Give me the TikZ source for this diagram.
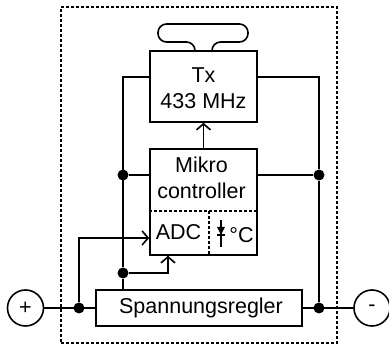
\documentclass[tikz,border=0pt]{standalone}
\usepackage{fontspec}
\setmainfont{Liberation Sans}
\usetikzlibrary{arrows.meta}
\tikzset{
  wire/.style={line width=1.6pt},
  barb/.style={wire,-{Straight Barb[length=6pt,width=14pt,line width=1.6pt]}},
  block/.style={draw,wire,inner sep=0pt},
  junction/.style={circle,fill=black,inner sep=0pt,minimum size=11pt},
  terminal/.style={circle,draw,wire,inner sep=0pt,minimum size=36pt},
  dashedline/.style={line width=1.4pt,dash pattern=on 3pt off 2pt},
  label/.style={font=\fontsize{21.5}{26}\selectfont,align=center,inner sep=0pt}
}
\begin{document}
\begin{tikzpicture}[x=1pt,y=1pt]
      \useasboundingbox (0,0) rectangle (389,345);

      \node[draw,dashedline,minimum width=276pt,minimum height=336pt,inner sep=0pt] (frame) at (199,170) {};

      \node[block,minimum width=107pt,minimum height=71pt] (tx) at (203.5,258.5) {};
      \node[block,minimum width=107pt,minimum height=106pt,below of=tx,node distance=115.5pt] (mikro) {};
      \node[block,minimum width=206pt,minimum height=36pt,below of=mikro,node distance=106pt,xshift=-4.5pt] (regler) {};

      \node[label] (txtext) at (203.5,257) {Tx\\433 MHz};
      \node[label] (mikrotext) at (201.5,167) {Mikro\\controller};
      \node[label] (adc) at (178.5,113) {ADC};
      \node[label] (celsius) at (241.5,110) {°C};
      \node[label,xshift=2pt] (reglertext) at (regler) {Spannungsregler};

      \node[terminal] (plus) at (25.5,37) {};
      \node[terminal] (minus) at (372,37) {};
      \node[label] (plustext) at (plus) {+};
      \node[label] (minustext) at (minus) {-};

      % junctions
      \node[junction] (jplus) at (79,37) {};
      \node[junction] (jminus) at (319,37) {};
      \node[junction] (jleft) at (123,170) {};
      \node[junction] (jright) at (319,170) {};
      \node[junction] (jadc) at (123,72) {};

      \coordinate (txleft) at (123,268);
      \coordinate (txright) at (319,268);
      \coordinate (adcin) at (79,107);
      \coordinate (sep) at (mikro.west |- 0,134);
      \coordinate (sepend) at (mikro.east |- 0,134);
      \coordinate (septop) at (209,134);
      \coordinate (adctip) at (168,72);
      \coordinate (diodetop) at (221,125);
      \coordinate (diodebot) at (221,98);
      \coordinate (stubl) at (195,294);
      \coordinate (stubr) at (212,294);

      \draw[wire] (tx.west |- txleft)--(txleft)--(jadc);
      \draw[wire] (jadc)--(jadc |- regler.north);
      \draw[wire] (tx.east |- txright)--(txright)--(jright);
      \draw[wire] (jright)--(jminus);
      \draw[wire] (jleft)--(jleft -| mikro.west);
      \draw[wire] (jright)--(jright -| mikro.east);
      \draw[wire] (plus)--(regler.west |- plus);
      \draw[wire] (regler.east |- minus)--(minus);

      \draw[barb] (mikro.north)--(tx.south);
      \draw[barb] (jplus)--(adcin)--(adcin -| mikro.west);
      \draw[barb] (jadc)--(adctip)--(adctip |- mikro.south);

      \draw[dashedline] (sep)--(sepend);
      \draw[dashedline] (septop)--(septop |- mikro.south);

      % temperature diode
      \draw[wire] (diodetop)--(diodebot);
      \fill (217,118)--(225,118)--(221,110)--cycle;
      \draw[wire] (217,110)--(225,110);

      % antenna
      \draw[wire,rounded corners=8.5pt] (stubl)--(195,303)--(158,303)--(158,321)--(248,321)--(248,303)--(212,303)--(stubr);
\end{tikzpicture}
\end{document}
